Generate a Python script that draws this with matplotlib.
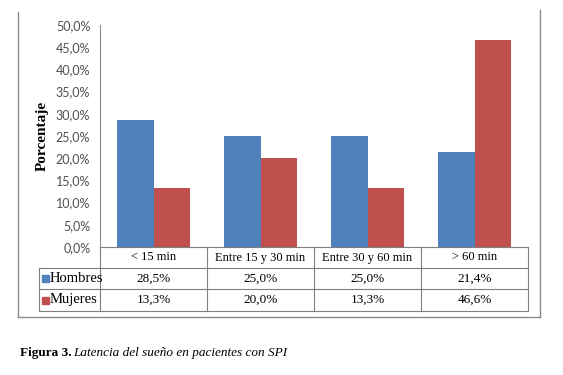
import matplotlib.pyplot as plt
from matplotlib.patches import Rectangle
from matplotlib.lines import Line2D
from matplotlib.transforms import blended_transform_factory
import numpy as np

categorias = ['< 15 min', 'Entre 15 y 30 min', 'Entre 30 y 60 min', '> 60 min']
series = ['Hombres', 'Mujeres']
hombres = [28.5, 25.0, 25.0, 21.4]
mujeres = [13.3, 20.0, 13.3, 46.6]
colores = ['#4F81BD', '#C0504D']
yticks = np.arange(0, 50.1, 5)

W, H = 563, 375
fig = plt.figure(figsize=(W / 100, H / 100), dpi=100)


def fx(px):
    return px / W


def fy(py):
    return 1 - py / H


serif = 'Liberation Serif'
gris = '#8c8c8c'

# outer frame (left, right, bottom)
for xs, ys in [((18, 18), (12, 317)), ((540, 540), (10, 317)), ((18, 540), (317, 317))]:
    fig.add_artist(Line2D([fx(xs[0]), fx(xs[1])], [fy(ys[0]), fy(ys[1])],
                          color=gris, lw=1, transform=fig.transFigure))

ax = fig.add_axes([fx(100), fy(247), fx(528) - fx(100), fy(25) - fy(247)])
x = np.arange(len(categorias))
w = 0.337
ax.bar(x - w / 2, hombres, w, color=colores[0])
ax.bar(x + w / 2, mujeres, w, color=colores[1])
ax.set_xlim(-0.5, len(categorias) - 0.5)
ax.set_ylim(0, 50)
ax.set_yticks(yticks)
ax.set_yticklabels([f'{v:.1f}%'.replace('.', ',') for v in yticks],
                   fontsize=9, color='#505050', family='Lato')
ax.tick_params(axis='y', length=0, pad=7)
ax.set_xticks([])
for s in ['top', 'right', 'bottom']:
    ax.spines[s].set_visible(False)
ax.spines['left'].set_color(gris)
ax.spines['left'].set_linewidth(0.8)

fig.text(fx(42), fy(136), 'Porcentaje', rotation=90, ha='center', va='center',
         fontsize=11, fontweight='bold', family=serif)

# data table below the plot
tr = blended_transform_factory(ax.transData, fig.transFigure)
row_y = [247, 268, 289, 311]
bounds = np.arange(len(categorias) + 1) - 0.5
x0_leg = -0.5 - (100 - 39) / ((528 - 100) / len(categorias))

lc = '#7f7f7f'
# horizontal lines
fig.add_artist(Line2D([bounds[0], bounds[-1]], [fy(row_y[0])] * 2, color=lc, lw=0.8, transform=tr))
for r in row_y[1:]:
    fig.add_artist(Line2D([x0_leg, bounds[-1]], [fy(r)] * 2, color=lc, lw=0.8, transform=tr))
# vertical lines
for b in bounds:
    fig.add_artist(Line2D([b, b], [fy(row_y[0]), fy(row_y[-1])], color=lc, lw=0.8, transform=tr))
fig.add_artist(Line2D([x0_leg, x0_leg], [fy(row_y[1]), fy(row_y[-1])], color=lc, lw=0.8, transform=tr))

for i, c in enumerate(categorias):
    fig.text(x[i], fy((row_y[0] + row_y[1]) / 2), c, transform=tr, ha='center', va='center',
             fontsize=9, family=serif)

for j, (nombre, vals) in enumerate(zip(series, [hombres, mujeres])):
    yc = fy((row_y[j + 1] + row_y[j + 2]) / 2)
    fig.add_artist(Rectangle((fx(42), yc - 3.5 / H), 7 / W, 7 / H, color=colores[j],
                             transform=fig.transFigure))
    fig.text(fx(50), yc, nombre, ha='left', va='center', fontsize=10.5, family=serif)
    for i, v in enumerate(vals):
        fig.text(x[i], yc, f'{v:.1f}%'.replace('.', ','), transform=tr, ha='center',
                 va='center', fontsize=9.5, family=serif)

# caption
fig.text(fx(20), fy(353), 'Figura 3.', ha='left', va='center', fontsize=9.5,
         fontweight='bold', family=serif)
fig.text(fx(73), fy(353), 'Latencia del sueño en pacientes con SPI', ha='left', va='center',
         fontsize=9.5, style='italic', family=serif)

fig.savefig('out.png', dpi=100)
